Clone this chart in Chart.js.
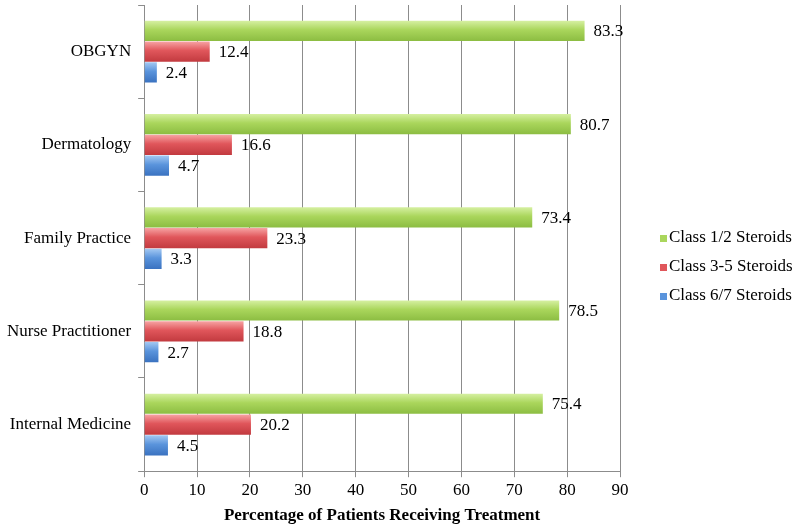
<!DOCTYPE html>
<html>
<head>
<meta charset="utf-8">
<script src="https://cdn.jsdelivr.net/npm/chart.js"></script>
<style>
  html, body { margin: 0; padding: 0; background: #fff; }
  #wrap { width: 794px; height: 526px; }
</style>
</head>
<body>
<div id="wrap"><canvas id="steroidChart" width="794" height="526"></canvas></div>

<script>
    const specialties = ['OBGYN', 'Dermatology', 'Family Practice', 'Nurse Practitioner', 'Internal Medicine'];
    const class12 = [83.3, 80.7, 73.4, 78.5, 75.4];
    const class35 = [12.4, 16.6, 23.3, 18.8, 20.2];
    const class67 = [2.4, 4.7, 3.3, 2.7, 4.5];
    const seriesNames = ['Class 1/2 Steroids', 'Class 3-5 Steroids', 'Class 6/7 Steroids'];
    const xTicks = [0, 10, 20, 30, 40, 50, 60, 70, 80, 90];

    const FONT = "'Liberation Serif', 'DejaVu Serif', serif";
    // light / mid / dark stops for the glossy bar look
    const shades = [
        ['#d6f0a2', '#aad65c', '#8cbd42'],
        ['#f7a3a3', '#e0565b', '#c23a3f'],
        ['#a3c8f2', '#5a94dc', '#3a72c0']
    ];

    // vertical gradient on each bar, set once positions are known
    const barGradients = {
        id: 'barGradients',
        beforeDatasetDraw(chart, args) {
            const c = chart.ctx;
            const s = shades[args.index];
            args.meta.data.forEach(bar => {
                const top = bar.y - bar.height / 2, bot = bar.y + bar.height / 2;
                const g = c.createLinearGradient(0, top, 0, bot);
                g.addColorStop(0, s[0]);
                g.addColorStop(0.45, s[1]);
                g.addColorStop(1, s[2]);
                bar.options.backgroundColor = g;
            });
        }
    };

    const valueLabels = {
        id: 'valueLabels',
        afterDatasetsDraw(chart) {
            const c = chart.ctx;
            c.save();
            c.font = '17px ' + FONT;
            c.fillStyle = '#000';
            c.textBaseline = 'middle';
            chart.data.datasets.forEach((ds, i) => {
                chart.getDatasetMeta(i).data.forEach((bar, j) => {
                    c.fillText(ds.data[j].toFixed(1), bar.x + 9, bar.y + 1);
                });
            });
            c.restore();
        }
    };

    // legend drawn by hand so it can sit away from the plot like the original
    const sideLegend = {
        id: 'sideLegend',
        afterDraw(chart) {
            const c = chart.ctx;
            const area = chart.chartArea;
            const x = area.right + 40;
            const y0 = 238, step = 29;
            c.save();
            c.font = '17px ' + FONT;
            c.textBaseline = 'middle';
            seriesNames.forEach((name, i) => {
                const y = y0 + i * step;
                c.fillStyle = shades[i][1];
                c.fillRect(x, y - 3, 7, 7);
                c.fillStyle = '#000';
                c.fillText(name, x + 9, y);
            });
            c.restore();
        }
    };

    const ctx = document.getElementById('steroidChart').getContext('2d');
    new Chart(ctx, {
        type: 'bar',
        data: {
            labels: specialties,
            datasets: [
                { label: seriesNames[0], data: class12, backgroundColor: c => shades[c.datasetIndex][1] },
                { label: seriesNames[1], data: class35, backgroundColor: c => shades[c.datasetIndex][1] },
                { label: seriesNames[2], data: class67, backgroundColor: c => shades[c.datasetIndex][1] }
            ]
        },
        options: {
            indexAxis: 'y',
            responsive: false,
            animation: false,
            devicePixelRatio: 1,
            categoryPercentage: 0.67,
            barPercentage: 0.97,
            layout: { padding: { top: 5, right: 174, left: 0, bottom: 0 } },
            scales: {
                x: {
                    min: 0,
                    max: 90,
                    afterBuildTicks: axis => { axis.ticks = xTicks.map(v => ({ value: v })); },
                    grid: { color: '#8c8c8c', lineWidth: 1, tickLength: 6, tickColor: '#8c8c8c' },
                    border: { color: '#8c8c8c' },
                    ticks: { color: '#000', font: { family: FONT, size: 17 }, padding: 3 },
                    title: {
                        display: true,
                        text: 'Percentage of Patients Receiving Treatment',
                        color: '#000',
                        font: { family: FONT, size: 17, weight: 'bold' },
                        padding: { top: 2, bottom: 0 }
                    }
                },
                y: {
                    afterFit: s => { s.paddingTop = 0; s.paddingBottom = 0; },
                    grid: { drawOnChartArea: false, offset: true, tickLength: 6, tickColor: '#8c8c8c' },
                    border: { color: '#8c8c8c' },
                    ticks: { color: '#000', font: { family: FONT, size: 17 }, padding: 7 }
                }
            },
            plugins: {
                legend: { display: false },
                tooltip: { enabled: false }
            }
        },
        plugins: [barGradients, valueLabels, sideLegend]
    });
</script>
</body>
</html>
